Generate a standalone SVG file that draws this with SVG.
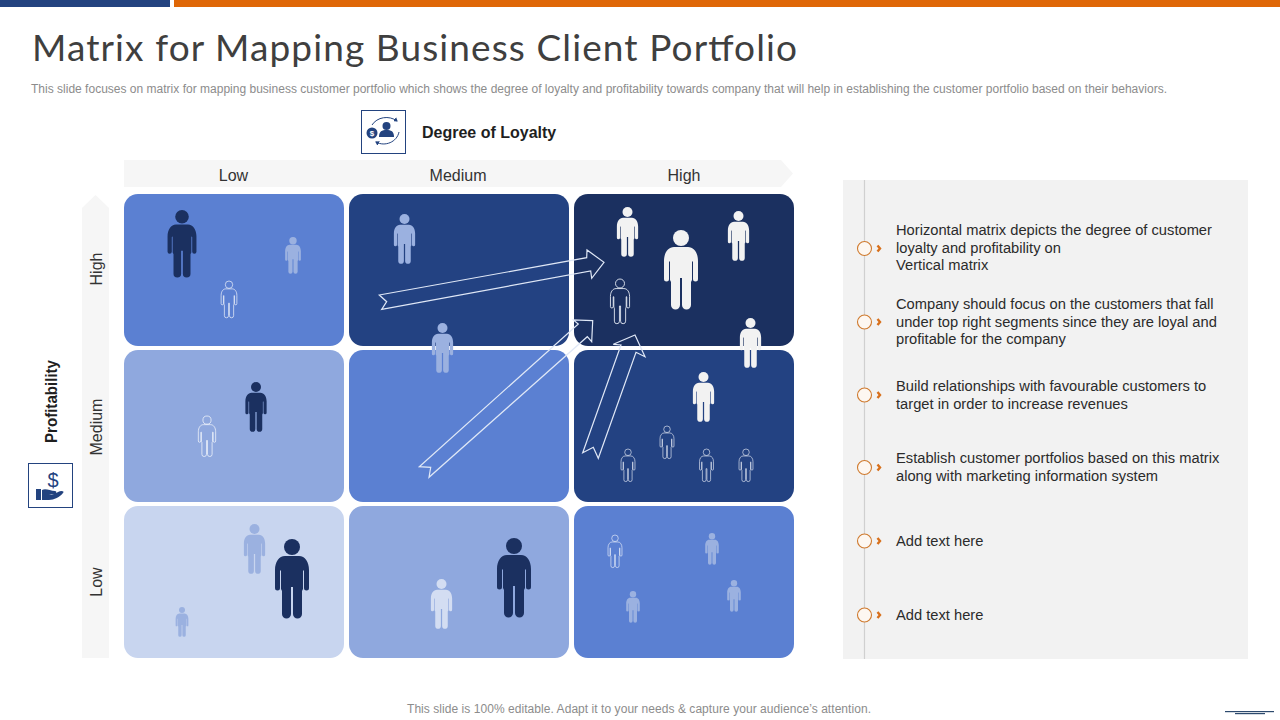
<svg xmlns="http://www.w3.org/2000/svg" width="1280" height="720" viewBox="0 0 1280 720">
<style>
text{font-family:"Liberation Sans",Arial,sans-serif;fill:#262626}
.ax{font-size:16px;fill:#333}
.li{font-size:14.7px;fill:#2b2b2b}
.hd{font-size:16px;font-weight:bold;fill:#1f1f1f}
.gr{font-size:12px;fill:#8c8c8c}
.o{fill:none;stroke:#f0f4fb;stroke-width:1.5;vector-effect:non-scaling-stroke}
.w{fill:#f2f2f2}.d{fill:#1b3060}.m{fill:#9bb1e0}.p{fill:#d3ddf2}
.arr{fill:none;stroke:#dfe7f6;stroke-width:1.2}
.bul{fill:#fdf7f1;stroke:#cf7a2e;stroke-width:1.1}
.chv{fill:none;stroke:#d8701c;stroke-width:2.4}
.ic{fill:none;stroke:#23437f;stroke-width:1}
.if{fill:#23437f}
</style>
<defs>
<g id="man"><circle cx="0" cy="8" r="8"/><path d="M-7,17H7C13,17 17,23 17,31V49A2.5,2.5 0 0 1 12,49V32C12,31 11,31 11,32V50L10,52V75A4.500,4.500 0 0 1 1,75V48H-1V75A4.500,4.500 0 0 1 -10,75V52L-11,50V32C-11,31 -12,31 -12,32V49A2.5,2.5 0 0 1 -17,49V31C-17,23 -13,17 -7,17Z"/></g>
<marker id="tick" markerWidth="5" markerHeight="5" refX="3" refY="2.500" orient="auto"><path d="M0,0L4,2.500L0,5Z" fill="#23437f"/></marker>
</defs>
<rect width="1280" height="720" fill="#fff"/>
<g id="topbar"><rect x="0" y="0" width="170" height="7" fill="#23437f"/><rect x="174" y="0" width="1106" height="7" fill="#df6707"/></g>
<text x="32" y="61" textLength="765" lengthAdjust="spacing" style="font-family:Lato,'Liberation Sans',sans-serif;font-size:37px;fill:#3f3f3f">Matrix for Mapping Business Client Portfolio</text>
<text x="31" y="92.500" class="gr" textLength="1136" lengthAdjust="spacing">This slide focuses on matrix for mapping business customer portfolio which shows the degree of loyalty and profitability towards company that will help in establishing the customer portfolio based on their behaviors.</text>

<g id="loyalty-header">
<rect x="361.500" y="110.500" width="44" height="43" fill="#fff" stroke="#23437f"/>
<circle class="if" cx="372" cy="133" r="5.500"/>
<text x="372" y="136" font-size="8" font-weight="bold" text-anchor="middle" style="fill:#fff">$</text>
<circle class="if" cx="386.500" cy="126" r="4"/>
<path class="if" d="M379,137C379,131 382,130 386.500,130C391,130 394,131 394,137Z"/>
<path class="ic" marker-end="url(#tick)" d="M372,125C377,117 389,115 397,121"/>
<path class="ic" marker-end="url(#tick)" d="M399,132C397,142 385,147 376,142"/>
<text x="422" y="137.500" class="hd">Degree of Loyalty</text>
</g>
<g id="x-axis">
<path d="M124,160H781L793,173.500L781,187H124Z" fill="#f6f6f6"/>
<text x="233.500" y="181" text-anchor="middle" class="ax">Low</text>
<text x="458" y="181" text-anchor="middle" class="ax">Medium</text>
<text x="684" y="181" text-anchor="middle" class="ax">High</text>
</g>
<g id="y-axis">
<path d="M82,658V208L95.500,195L109,208V658Z" fill="#f6f6f6"/>
<text transform="translate(102,269) rotate(-90)" text-anchor="middle" class="ax">High</text>
<text transform="translate(102,427) rotate(-90)" text-anchor="middle" class="ax">Medium</text>
<text transform="translate(102,582) rotate(-90)" text-anchor="middle" class="ax">Low</text>
<text transform="translate(56.500,401.500) rotate(-90)" text-anchor="middle" class="hd" textLength="83" lengthAdjust="spacingAndGlyphs">Profitability</text>
</g>
<g id="profit-icon">
<rect x="28.500" y="463.500" width="44" height="44" fill="#fff" stroke="#23437f"/>
<text x="53" y="487" font-size="20" text-anchor="middle" style="fill:#23437f">$</text>
<path class="if" d="M36,489H41V500H36ZM42,490C46,488 50,491 55,491C57,491 57,494 54,494H49C52,495 55,494 58,492C61,490 65,491 63,493C60,497 54,500 49,500H42Z"/>
</g>

<g id="cell-low-high"><rect x="124" y="194" width="220" height="152" rx="14" fill="#5b80d2"/></g>
<g id="cell-medium-high"><rect x="349" y="194" width="220" height="152" rx="14" fill="#234282"/></g>
<g id="cell-high-high"><rect x="574" y="194" width="220" height="152" rx="14" fill="#1b3060"/></g>
<g id="cell-low-medium"><rect x="124" y="350" width="220" height="152" rx="14" fill="#8fa8de"/></g>
<g id="cell-medium-medium"><rect x="349" y="350" width="220" height="152" rx="14" fill="#5b80d2"/></g>
<g id="cell-high-medium"><rect x="574" y="350" width="220" height="152" rx="14" fill="#234282"/></g>
<g id="cell-low-low"><rect x="124" y="506" width="220" height="152" rx="14" fill="#c8d5ef"/></g>
<g id="cell-medium-low"><rect x="349" y="506" width="220" height="152" rx="14" fill="#8fa8de"/></g>
<g id="cell-high-low"><rect x="574" y="506" width="220" height="152" rx="14" fill="#5b80d2"/></g>

<g id="people">
<use href="#man" class="d" transform="translate(182,210) scale(.85)"/>
<use href="#man" class="m" transform="translate(293,237) scale(.4625)"/>
<use href="#man" class="o" transform="translate(229,281) scale(.4625)"/>
<use href="#man" class="m" transform="translate(404.500,214) scale(.625)"/>
<use href="#man" class="m" transform="translate(442.500,323) scale(.625)"/>
<use href="#man" class="w" transform="translate(627.500,207) scale(.625)"/>
<use href="#man" class="w" transform="translate(738.500,211) scale(.625)"/>
<use href="#man" class="w" transform="translate(681,230)"/>
<use href="#man" class="o" transform="translate(620,279) scale(.5625)"/>
<use href="#man" class="w" transform="translate(750.500,318) scale(.625)"/>
<use href="#man" class="w" transform="translate(703.500,372) scale(.625)"/>
<use href="#man" class="o" transform="translate(667,426) scale(.41)"/>
<use href="#man" class="o" transform="translate(628,449) scale(.41)"/>
<use href="#man" class="o" transform="translate(706.500,449) scale(.41)"/>
<use href="#man" class="o" transform="translate(746,449) scale(.41)"/>
<use href="#man" class="d" transform="translate(256,382) scale(.625)"/>
<use href="#man" class="o" transform="translate(207,416) scale(.51)"/>
<use href="#man" class="m" transform="translate(254.500,524) scale(.625)"/>
<use href="#man" class="d" transform="translate(292,539)"/>
<use href="#man" class="m" transform="translate(182,607) scale(.375)"/>
<use href="#man" class="p" transform="translate(441.500,579) scale(.625)"/>
<use href="#man" class="d" transform="translate(514,538)"/>
<use href="#man" class="o" transform="translate(615,535) scale(.41)"/>
<use href="#man" class="m" transform="translate(712,533) scale(.4)"/>
<use href="#man" class="m" transform="translate(633,591) scale(.4)"/>
<use href="#man" class="m" transform="translate(734,580) scale(.4)"/>
</g>

<g id="connectors">
<path class="arr" d="M379.300,295L586.700,257.700L587,250L604,262.300L591.700,278.300L590.700,271L381.700,309.300L386.700,301.700Z"/>
<path class="arr" d="M419.300,466.700L578.300,324L573.300,320L592.700,320.700L591.700,341.700L587.300,336.700L429,477.300L430.700,467.300Z"/>
<path class="arr" d="M582.700,452.700L621,345L613.300,344.300L635,335L645,356.700L636,352.300L598.300,458.300L593.300,447.300Z"/>
</g>

<g id="panel">
<rect x="843" y="180" width="405" height="479" fill="#f2f2f2"/>
<line x1="864.500" y1="180" x2="864.500" y2="659" stroke="#d0d0d0" stroke-width="1.200"/>
</g>
<g id="item-1"><circle class="bul" cx="864.500" cy="248.500" r="7"/><path class="chv" d="M877.500,245.500L880,248.500L877.500,251.500"/>
<text class="li" x="896" y="235">Horizontal matrix depicts the degree of customer</text><text class="li" x="896" y="253">loyalty and profitability on</text><text class="li" x="896" y="270">Vertical matrix</text></g>
<g id="item-2"><circle class="bul" cx="864.500" cy="322" r="7"/><path class="chv" d="M877.500,319L880,322L877.500,325"/>
<text class="li" x="896" y="309">Company should focus on the customers that fall</text><text class="li" x="896" y="327">under top right segments since they are loyal and</text><text class="li" x="896" y="344">profitable for the company</text></g>
<g id="item-3"><circle class="bul" cx="864.500" cy="395" r="7"/><path class="chv" d="M877.500,392L880,395L877.500,398"/>
<text class="li" x="896" y="391">Build relationships with favourable customers to</text><text class="li" x="896" y="409">target in order to increase revenues</text></g>
<g id="item-4"><circle class="bul" cx="864.500" cy="467.500" r="7"/><path class="chv" d="M877.500,464.500L880,467.500L877.500,470.500"/>
<text class="li" x="896" y="463">Establish customer portfolios based on this matrix</text><text class="li" x="896" y="481">along with marketing information system</text></g>
<g id="item-5"><circle class="bul" cx="864.500" cy="541" r="7"/><path class="chv" d="M877.500,538L880,541L877.500,544"/>
<text class="li" x="896" y="546">Add text here</text></g>
<g id="item-6"><circle class="bul" cx="864.500" cy="615" r="7"/><path class="chv" d="M877.500,612L880,615L877.500,618"/>
<text class="li" x="896" y="620">Add text here</text></g>

<text x="639" y="713" class="gr" text-anchor="middle" textLength="464" lengthAdjust="spacing">This slide is 100% editable. Adapt it to your needs &amp; capture your audience’s attention.</text>
<g id="corner-lines"><rect x="1225" y="711" width="49" height="1.200" fill="#2d4a6e"/><rect x="1235" y="713" width="30" height="1.200" fill="#2d4a6e"/></g>
</svg>
